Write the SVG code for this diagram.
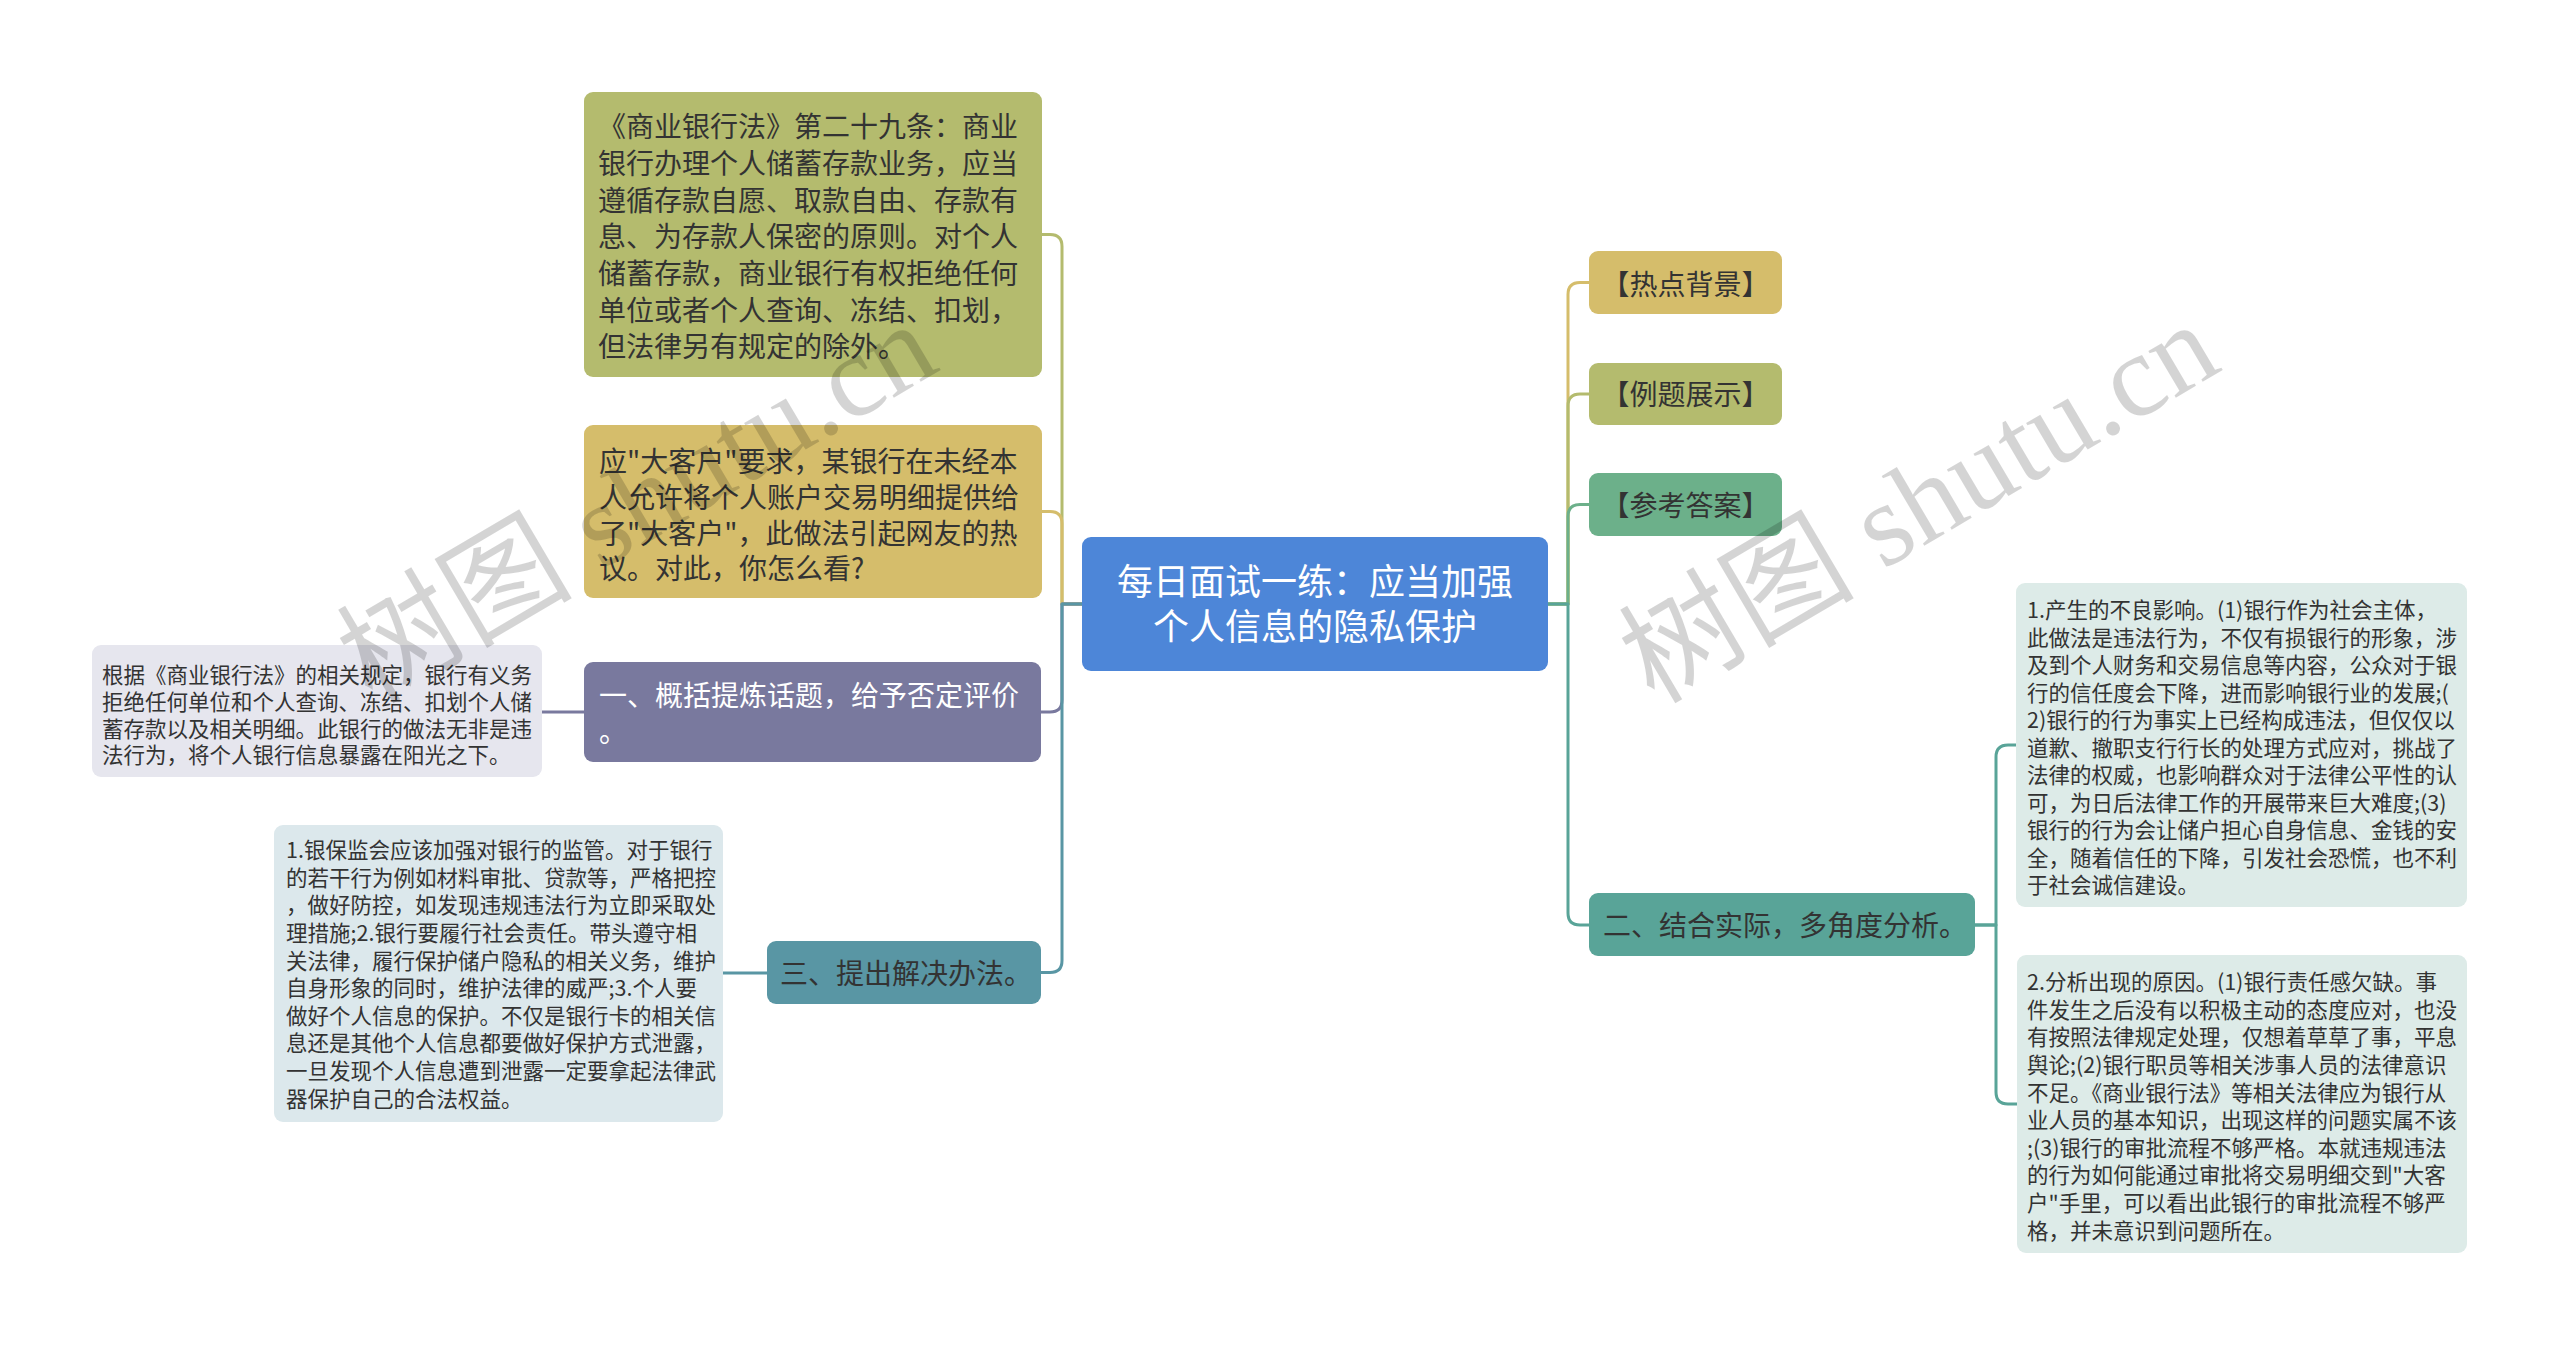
<svg xmlns="http://www.w3.org/2000/svg" width="2560" height="1345" viewBox="0 0 2560 1345">
<style>
.t{font-family:"Noto Sans CJK SC","Noto Sans",sans-serif;fill:#333}
.big{font-size:28px}
.sm{font-size:21.5px}
.w{fill:#fff}
.c{fill:none;stroke-width:3;stroke-linecap:round;stroke-linejoin:round}
.wm{font-family:"Liberation Serif","Noto Sans CJK SC",serif;font-size:118px;fill:#000;fill-opacity:0.17}
</style>
<rect width="2560" height="1345" fill="#fff"/>
<g id="connectors">
  <path class="c" stroke="#b4bb6e" d="M1082,604 H1062 V246.5 Q1062,234.5 1050,234.5 H1041"/>
  <path class="c" stroke="#d5bd6b" d="M1082,604 H1062 V523.5 Q1062,511.5 1050,511.5 H1041"/>
  <path class="c" stroke="#79799e" d="M1082,604 H1062 V700 Q1062,712 1050,712 H1041"/>
  <path class="c" stroke="#5996a4" d="M1082,604 H1062 V960.5 Q1062,972.5 1050,972.5 H1041"/>
  <path class="c" stroke="#79799e" d="M584,712 H542"/>
  <path class="c" stroke="#5996a4" d="M767,973 H723"/>
  <path class="c" stroke="#d5bd6b" d="M1548,604 H1568 V294.5 Q1568,282.5 1580,282.5 H1589"/>
  <path class="c" stroke="#b4bb6e" d="M1548,604 H1568 V406 Q1568,394 1580,394 H1589"/>
  <path class="c" stroke="#6cb08a" d="M1548,604 H1568 V516.5 Q1568,504.5 1580,504.5 H1589"/>
  <path class="c" stroke="#59a498" d="M1548,604 H1568 V913 Q1568,925 1580,925 H1589"/>
  <path class="c" stroke="#59a498" d="M1975,925 H1996 V757 Q1996,745 2008,745 H2016"/>
  <path class="c" stroke="#59a498" d="M1975,925 H1996 V1092 Q1996,1104 2008,1104 H2017"/>
</g>
<g id="root">
  <rect x="1082" y="537" width="466" height="134" rx="9" fill="#4d86d8"/>
  <text class="t w" font-size="36" text-anchor="middle"><tspan x="1315" y="595.4">每日面试一练：应当加强</tspan><tspan x="1315" y="640.4">个人信息的隐私保护</tspan></text>
</g>
<g id="law">
  <rect x="584" y="92" width="458" height="285" rx="9" fill="#b4bb6e"/>
  <text class="t big"><tspan x="598" y="137.3">《商业银行法》第二十九条：商业</tspan><tspan x="598" y="174">银行办理个人储蓄存款业务，应当</tspan><tspan x="598" y="210.6">遵循存款自愿、取款自由、存款有</tspan><tspan x="598" y="247.3">息、为存款人保密的原则。对个人</tspan><tspan x="598" y="284">储蓄存款，商业银行有权拒绝任何</tspan><tspan x="598" y="320.6">单位或者个人查询、冻结、扣划，</tspan><tspan x="598" y="357.3">但法律另有规定的除外。</tspan></text>
</g>
<g id="question">
  <rect x="584" y="425" width="458" height="173" rx="9" fill="#d5bd6b"/>
  <text class="t big"><tspan x="599" y="472.3">应"大客户"要求，某银行在未经本</tspan><tspan x="599" y="507.9">人允许将个人账户交易明细提供给</tspan><tspan x="599" y="543.5">了"大客户"，此做法引起网友的热</tspan><tspan x="599" y="579.1">议。对此，你怎么看?</tspan></text>
</g>
<g id="branch1">
  <rect x="584" y="662" width="457" height="100" rx="9" fill="#79799e"/>
  <text class="t big w"><tspan x="599" y="705.6">一、概括提炼话题，给予否定评价</tspan><tspan x="599" y="742">。</tspan></text>
</g>
<g id="detail1">
  <rect x="92" y="645" width="450" height="132" rx="9" fill="#e6e6ee"/>
  <text class="t sm"><tspan x="102" y="683.2">根据《商业银行法》的相关规定，银行有义务</tspan><tspan x="102" y="709.9">拒绝任何单位和个人查询、冻结、扣划个人储</tspan><tspan x="102" y="736.5">蓄存款以及相关明细。此银行的做法无非是违</tspan><tspan x="102" y="763.2">法行为，将个人银行信息暴露在阳光之下。</tspan></text>
</g>
<g id="branch3">
  <rect x="767" y="941" width="274" height="63" rx="9" fill="#5996a4"/>
  <text class="t big" x="780" y="983.6">三、提出解决办法。</text>
</g>
<g id="detail3">
  <rect x="274" y="825" width="449" height="297" rx="9" fill="#dce8ec"/>
  <text class="t sm"><tspan x="286" y="858.2">1.银保监会应该加强对银行的监管。对于银行</tspan><tspan x="286" y="885.8">的若干行为例如材料审批、贷款等，严格把控</tspan><tspan x="286" y="913.4">，做好防控，如发现违规违法行为立即采取处</tspan><tspan x="286" y="941">理措施;2.银行要履行社会责任。带头遵守相</tspan><tspan x="286" y="968.6">关法律，履行保护储户隐私的相关义务，维护</tspan><tspan x="286" y="996.2">自身形象的同时，维护法律的威严;3.个人要</tspan><tspan x="286" y="1023.8">做好个人信息的保护。不仅是银行卡的相关信</tspan><tspan x="286" y="1051.4">息还是其他个人信息都要做好保护方式泄露，</tspan><tspan x="286" y="1079">一旦发现个人信息遭到泄露一定要拿起法律武</tspan><tspan x="286" y="1106.6">器保护自己的合法权益。</tspan></text>
</g>
<g id="hot">
  <rect x="1589" y="251" width="193" height="63" rx="9" fill="#d5bd6b"/>
  <text class="t big" x="1685.5" y="294.5" text-anchor="middle">【热点背景】</text>
</g>
<g id="example">
  <rect x="1589" y="363" width="193" height="62" rx="9" fill="#b4bb6e"/>
  <text class="t big" x="1685.5" y="404.6" text-anchor="middle">【例题展示】</text>
</g>
<g id="answer">
  <rect x="1589" y="473" width="193" height="63" rx="9" fill="#6cb08a"/>
  <text class="t big" x="1685.5" y="516" text-anchor="middle">【参考答案】</text>
</g>
<g id="branch2">
  <rect x="1589" y="893" width="386" height="63" rx="9" fill="#59a498"/>
  <text class="t big" x="1603" y="935.6">二、结合实际，多角度分析。</text>
</g>
<g id="detail2a">
  <rect x="2016" y="583" width="451" height="324" rx="9" fill="#ddebe8"/>
  <text class="t sm"><tspan x="2027" y="618.2">1.产生的不良影响。(1)银行作为社会主体，</tspan><tspan x="2027" y="645.7">此做法是违法行为，不仅有损银行的形象，涉</tspan><tspan x="2027" y="673.2">及到个人财务和交易信息等内容，公众对于银</tspan><tspan x="2027" y="700.7">行的信任度会下降，进而影响银行业的发展;(</tspan><tspan x="2027" y="728.2">2)银行的行为事实上已经构成违法，但仅仅以</tspan><tspan x="2027" y="755.7">道歉、撤职支行行长的处理方式应对，挑战了</tspan><tspan x="2027" y="783.2">法律的权威，也影响群众对于法律公平性的认</tspan><tspan x="2027" y="810.7">可，为日后法律工作的开展带来巨大难度;(3)</tspan><tspan x="2027" y="838.2">银行的行为会让储户担心自身信息、金钱的安</tspan><tspan x="2027" y="865.7">全，随着信任的下降，引发社会恐慌，也不利</tspan><tspan x="2027" y="893.2">于社会诚信建设。</tspan></text>
</g>
<g id="detail2b">
  <rect x="2017" y="955" width="450" height="298" rx="9" fill="#ddebe8"/>
  <text class="t sm"><tspan x="2027" y="990.2">2.分析出现的原因。(1)银行责任感欠缺。事</tspan><tspan x="2027" y="1017.8">件发生之后没有以积极主动的态度应对，也没</tspan><tspan x="2027" y="1045.4">有按照法律规定处理，仅想着草草了事，平息</tspan><tspan x="2027" y="1073">舆论;(2)银行职员等相关涉事人员的法律意识</tspan><tspan x="2027" y="1100.6">不足。《商业银行法》等相关法律应为银行从</tspan><tspan x="2027" y="1128.2">业人员的基本知识，出现这样的问题实属不该</tspan><tspan x="2027" y="1155.8">;(3)银行的审批流程不够严格。本就违规违法</tspan><tspan x="2027" y="1183.4">的行为如何能通过审批将交易明细交到"大客</tspan><tspan x="2027" y="1211">户"手里，可以看出此银行的审批流程不够严</tspan><tspan x="2027" y="1238.6">格，并未意识到问题所在。</tspan></text>
</g>
<g id="watermarks">
  <text class="wm" x="372" y="705" textLength="662" lengthAdjust="spacingAndGlyphs" transform="rotate(-30.5 372 705)">树图 shutu.cn</text>
  <text class="wm" x="1654" y="705" textLength="662" lengthAdjust="spacingAndGlyphs" transform="rotate(-30.5 1654 705)">树图 shutu.cn</text>
  <text class="wm" x="372" y="1720" textLength="662" lengthAdjust="spacingAndGlyphs" transform="rotate(-30.5 372 1720)">树图 shutu.cn</text>
  <text class="wm" x="1654" y="1720" textLength="662" lengthAdjust="spacingAndGlyphs" transform="rotate(-30.5 1654 1720)">树图 shutu.cn</text>
</g>
</svg>
